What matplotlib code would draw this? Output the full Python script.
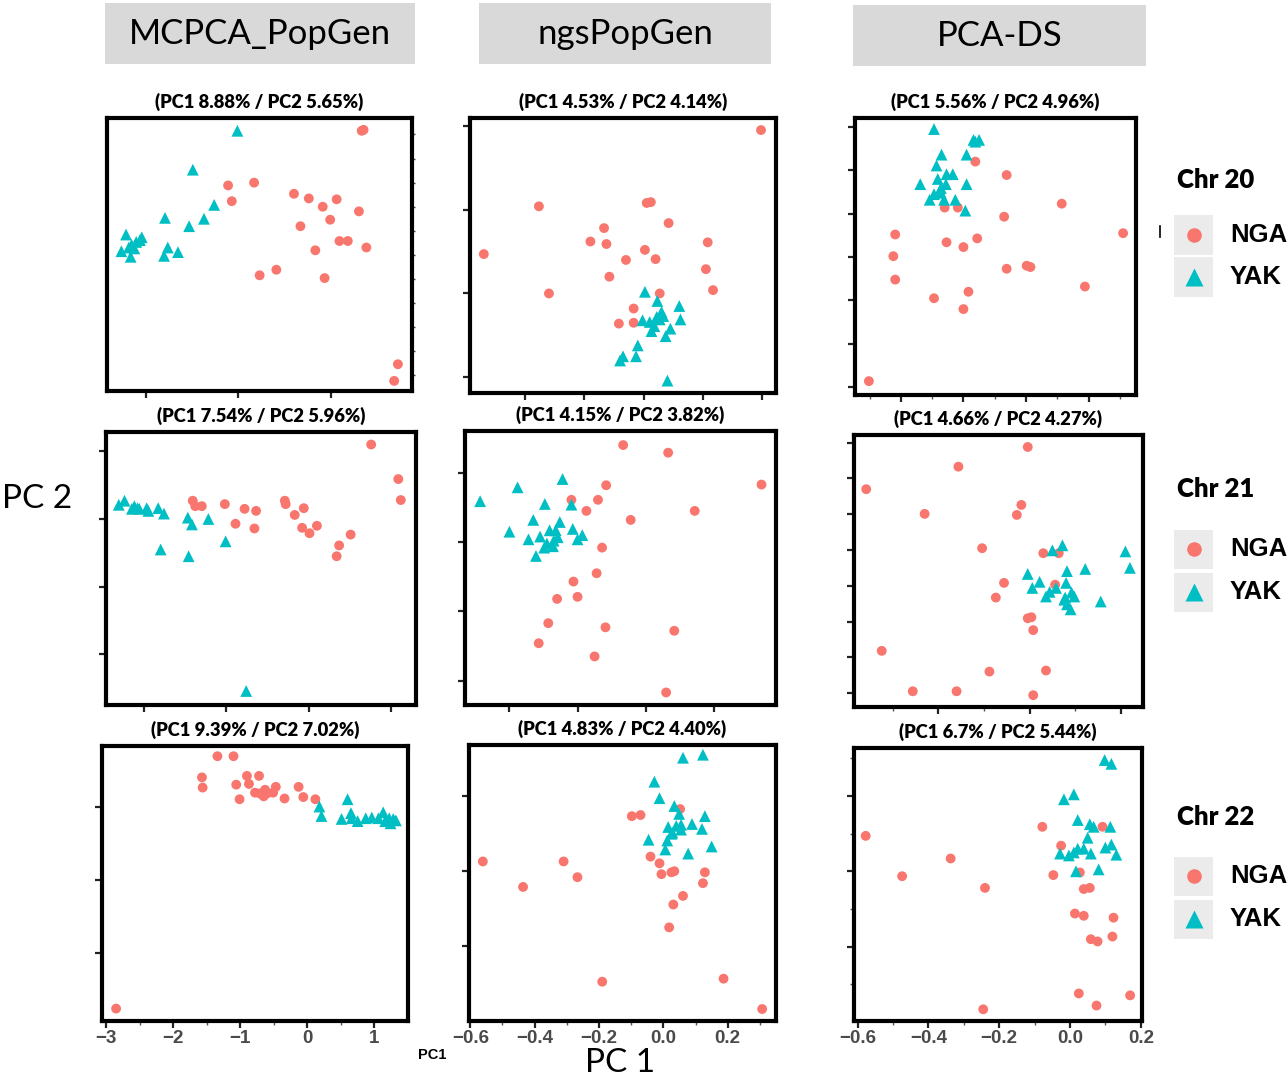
import matplotlib
matplotlib.use("Agg")
import matplotlib.pyplot as plt
from matplotlib.patches import Rectangle
from matplotlib.lines import Line2D

# ---------------- data ----------------
methods = ["MCPCA_PopGen", "ngsPopGen", "PCA-DS"]
chromosomes = ["Chr 20", "Chr 21", "Chr 22"]
groups = ["NGA", "YAK"]
group_colors = ["#F8766D", "#00BFC4"]
group_markers = ["o", "^"]

subtitles = [
    ["(PC1 8.88% / PC2 5.65%)", "(PC1 4.53% / PC2 4.14%)", "(PC1 5.56% / PC2 4.96%)"],
    ["(PC1 7.54% / PC2 5.96%)", "(PC1 4.15% / PC2 3.82%)", "(PC1 4.66% / PC2 4.27%)"],
    ["(PC1 9.39% / PC2 7.02%)", "(PC1 4.83% / PC2 4.40%)", "(PC1 6.7% / PC2 5.44%)"],
]

# Chr 20 - MCPCA_PopGen
c20_mc_nga_x = [1.33, 1.35, -0.11, 0.17, -0.07, 0.60, 0.76, 0.91, 1.06, 1.30, 0.99, 0.67, 1.09, 1.18, 1.38, 0.83, 0.41, 0.23, 0.93, 1.72, 1.68]
c20_mc_nga_y = [1.33, 1.34, 0.74, 0.77, 0.57, 0.65, 0.60, 0.51, 0.59, 0.46, 0.37, 0.30, 0.14, 0.14, 0.07, 0.04, -0.17, -0.23, -0.26, -1.19, -1.37]
c20_mc_yak_x = [-0.01, -0.49, -0.26, -0.79, -0.37, -0.53, -1.21, -1.04, -1.10, -1.15, -1.26, -1.16, -0.76, -0.65, -0.80, -1.18, -1.06, -1.12]
c20_mc_yak_y = [1.33, 0.91, 0.53, 0.39, 0.38, 0.30, 0.21, 0.18, 0.13, 0.10, 0.03, -0.03, 0.07, 0.02, -0.02, 0.07, 0.15, 0.06]

# Chr 20 - ngsPopGen
c20_ngs_nga_x = [1.98, -1.77, 0.05, 0.12, 0.42, -0.67, -0.90, -0.63, 1.08, -2.70, 0.02, -0.30, 0.20, 1.05, -0.58, -1.60, 0.27, 1.17, -0.17, -0.42, -0.17]
c20_ngs_nga_y = [1.95, 1.04, 1.08, 1.09, 0.84, 0.78, 0.62, 0.59, 0.61, 0.47, 0.52, 0.40, 0.41, 0.29, 0.20, 0.00, 0.00, 0.04, -0.18, -0.36, -0.35]
c20_ngs_yak_x = [0.02, 0.23, 0.60, 0.30, -0.02, 0.22, 0.33, 0.62, 0.10, 0.18, 0.13, 0.45, 0.37, -0.10, -0.35, -0.13, -0.40, 0.40, 0.27]
c20_ngs_yak_y = [0.02, -0.09, -0.15, -0.22, -0.32, -0.28, -0.27, -0.31, -0.34, -0.39, -0.45, -0.42, -0.51, -0.62, -0.75, -0.75, -0.80, -1.04, -0.31]

# Chr 20 - PCA-DS
c20_ds_nga_x = [0.19, 0.69, 1.57, -0.30, -0.09, 0.65, -1.09, 2.55, 0.22, -0.27, 0.00, -1.12, 0.69, 1.01, 1.07, -1.09, 1.94, 0.08, -0.47, 0.00, -1.51]
c20_ds_nga_y = [2.20, 1.89, 1.23, 1.14, 1.14, 0.93, 0.52, 0.55, 0.43, 0.34, 0.23, 0.02, -0.27, -0.20, -0.23, -0.52, -0.68, -0.80, -0.95, -1.20, -2.86]
c20_ds_yak_x = [-0.47, 0.16, 0.25, 0.19, -0.35, 0.05, -0.43, -0.17, -0.27, -0.41, 0.05, -0.69, -0.28, -0.36, -0.47, -0.36, -0.54, -0.31, -0.13, 0.03]
c20_ds_yak_y = [2.95, 2.70, 2.70, 2.66, 2.36, 2.36, 2.11, 1.91, 1.91, 1.80, 1.68, 1.68, 1.68, 1.59, 1.45, 1.48, 1.32, 1.32, 1.32, 1.07]

# Chr 21 - MCPCA_PopGen
c21_mc_nga_x = [1.76, 2.09, 2.12, -0.41, -0.38, -0.30, -0.02, 0.22, 0.36, 0.71, 0.72, 0.94, 0.83, 0.11, 0.34, 0.92, 1.10, 1.01, 1.51, 1.37, 1.34]
c21_mc_nga_y = [2.10, 1.59, 1.28, 1.27, 1.19, 1.19, 1.22, 1.15, 1.12, 1.27, 1.22, 1.16, 1.06, 0.93, 0.86, 0.87, 0.90, 0.79, 0.77, 0.61, 0.45]
c21_mc_yak_x = [-1.24, -1.31, -1.15, -1.08, -0.97, -0.95, -0.83, -0.76, -1.06, -0.47, -0.42, -0.22, -0.01, -0.80, -0.46, 0.24, -1.12]
c21_mc_yak_y = [1.27, 1.21, 1.15, 1.16, 1.16, 1.12, 1.16, 1.08, 1.15, 1.02, 0.92, 1.00, 0.67, 0.55, 0.45, -1.54, 1.19]

# Chr 21 - ngsPopGen
c21_ngs_nga_x = [0.67, 1.33, 2.70, 0.42, -0.09, 0.30, 0.13, 1.72, 0.78, 0.36, 0.28, -0.06, -0.30, 0.00, -0.43, 0.41, 1.42, -0.57, 0.25, 1.30]
c21_ngs_nga_y = [2.40, 2.29, 1.83, 1.82, 1.61, 1.61, 1.45, 1.45, 1.32, 0.92, 0.55, 0.43, 0.18, 0.21, -0.17, -0.23, -0.28, -0.46, -0.65, -1.17]
c21_ngs_yak_x = [-0.22, -0.88, -1.43, -0.48, -0.09, -0.65, -0.26, -1.00, -0.07, -0.41, -0.32, -0.72, -0.55, -0.29, 0.00, 0.07, -0.45, -0.49, -0.36, -0.61, -0.35]
c21_ngs_yak_y = [1.91, 1.79, 1.59, 1.55, 1.54, 1.32, 1.29, 1.15, 1.19, 1.17, 1.17, 1.04, 1.08, 1.07, 1.04, 1.10, 0.98, 0.92, 0.94, 0.80, 1.02]

# Chr 21 - PCA-DS
c21_ds_nga_x = [-0.02, -0.78, -1.79, -0.09, -1.15, -0.14, -0.52, 0.15, 0.32, -0.28, 0.28, -0.37, -0.02, 0.02, 0.04, -1.62, -0.44, 0.18, -1.28, -0.80, 0.04]
c21_ds_nga_y = [3.88, 3.33, 2.70, 2.26, 2.01, 1.98, 1.05, 0.91, 0.91, 0.08, 0.03, -0.33, -0.91, -0.88, -1.24, -1.82, -2.40, -2.37, -2.95, -2.95, -3.06]
c21_ds_yak_x = [0.25, 0.36, 1.05, 1.10, 0.41, 0.61, -0.02, 0.11, 0.40, 0.03, 0.29, 0.22, 0.46, 0.18, 0.49, 0.38, 0.78, 0.41, 0.45, 0.39]
c21_ds_yak_y = [0.99, 1.13, 0.96, 0.50, 0.41, 0.47, 0.33, 0.11, 0.08, -0.06, -0.06, -0.17, -0.19, -0.30, -0.30, -0.39, -0.44, -0.52, -0.66, -0.33]

# Chr 22 - MCPCA_PopGen
c22_mc_nga_x = [-1.34, -1.10, -1.57, -1.56, -0.90, -0.72, -0.87, -1.06, -0.47, -0.13, -0.78, -0.63, -0.60, -0.51, -0.65, -1.01, -0.34, -0.06, 0.12, -0.71, -2.85]
c22_mc_nga_y = [1.70, 1.70, 1.41, 1.27, 1.43, 1.43, 1.32, 1.31, 1.28, 1.28, 1.20, 1.24, 1.19, 1.20, 1.15, 1.11, 1.12, 1.14, 1.11, 1.19, -1.76]
c22_mc_yak_x = [0.18, 0.21, 0.60, 0.65, 0.51, 0.75, 0.96, 1.13, 1.22, 1.28, 1.06, 1.32, 0.87, 1.24, 1.16, 0.66]
c22_mc_yak_y = [1.01, 0.88, 1.11, 0.92, 0.84, 0.81, 0.86, 0.93, 0.85, 0.84, 0.85, 0.82, 0.85, 0.78, 0.81, 0.85]

# Chr 22 - ngsPopGen
c22_ngs_nga_x = [0.052, -0.098, -0.071, -0.561, -0.310, -0.040, -0.012, -0.267, -0.006, 0.025, 0.034, 0.129, -0.436, 0.123, 0.061, 0.031, 0.018, -0.190, 0.187, 0.307]
c22_ngs_nga_y = [0.166, 0.147, 0.150, 0.026, 0.026, 0.039, 0.021, -0.016, -0.008, -0.003, 0.000, -0.003, -0.042, -0.032, -0.066, -0.089, -0.150, -0.295, -0.287, -0.368]
c22_ngs_yak_x = [0.061, 0.123, -0.028, -0.012, 0.034, 0.049, 0.129, 0.015, 0.040, 0.055, 0.089, 0.120, 0.028, 0.055, -0.046, 0.012, 0.006, 0.150, 0.077, 0.025]
c22_ngs_yak_y = [0.303, 0.311, 0.239, 0.195, 0.174, 0.153, 0.147, 0.118, 0.121, 0.124, 0.126, 0.113, 0.103, 0.111, 0.084, 0.082, 0.058, 0.066, 0.047, 0.100]

# Chr 22 - PCA-DS
c22_ds_nga_x = [-0.577, -0.078, 0.092, -0.337, -0.025, -0.474, -0.047, 0.028, -0.240, 0.039, 0.056, 0.014, 0.039, 0.123, 0.059, 0.078, 0.120, 0.025, 0.170, 0.075, -0.245]
c22_ds_nga_y = [0.094, 0.118, 0.118, 0.034, 0.068, -0.013, -0.010, -0.003, -0.044, -0.047, -0.044, -0.112, -0.118, -0.123, -0.180, -0.186, -0.173, -0.324, -0.329, -0.356, -0.366]
c22_ds_yak_x = [0.098, 0.117, -0.017, 0.011, 0.022, 0.056, 0.067, 0.114, 0.050, 0.022, 0.039, 0.100, 0.117, -0.028, -0.003, 0.011, 0.059, 0.131, 0.017, 0.081]
c22_ds_yak_y = [0.295, 0.285, 0.191, 0.204, 0.136, 0.125, 0.118, 0.118, 0.089, 0.060, 0.060, 0.063, 0.071, 0.047, 0.042, 0.050, 0.047, 0.044, 0.000, 0.005]

# x tick labels of the bottom row
mc_xtick_labels = ["\u22123", "\u22122", "\u22121", "0", "1"]
ngs_xtick_labels = ["\u22120.6", "\u22120.4", "\u22120.2", "0.0", "0.2"]
ds_xtick_labels = ["\u22120.6", "\u22120.4", "\u22120.2", "0.0", "0.2"]

panels = [
    [((c20_mc_nga_x, c20_mc_nga_y), (c20_mc_yak_x, c20_mc_yak_y)),
     ((c20_ngs_nga_x, c20_ngs_nga_y), (c20_ngs_yak_x, c20_ngs_yak_y)),
     ((c20_ds_nga_x, c20_ds_nga_y), (c20_ds_yak_x, c20_ds_yak_y))],
    [((c21_mc_nga_x, c21_mc_nga_y), (c21_mc_yak_x, c21_mc_yak_y)),
     ((c21_ngs_nga_x, c21_ngs_nga_y), (c21_ngs_yak_x, c21_ngs_yak_y)),
     ((c21_ds_nga_x, c21_ds_nga_y), (c21_ds_yak_x, c21_ds_yak_y))],
    [((c22_mc_nga_x, c22_mc_nga_y), (c22_mc_yak_x, c22_mc_yak_y)),
     ((c22_ngs_nga_x, c22_ngs_nga_y), (c22_ngs_yak_x, c22_ngs_yak_y)),
     ((c22_ds_nga_x, c22_ds_nga_y), (c22_ds_yak_x, c22_ds_yak_y))],
]

# ---------------- layout / styling ----------------
W, H = 1288, 1076
fig = plt.figure(figsize=(W / 100, H / 100), dpi=100)
fig.patch.set_facecolor("white")

CAL = ["Lato", "DejaVu Sans"]
ARIAL = ["Liberation Sans", "DejaVu Sans"]

def frac_rect(l, r, t, b):
    return [l / W, 1 - b / H, (r - l) / W, (b - t) / H]

# pixel boxes of panels (left, right, top, bottom)
boxes = [
    [(107, 412, 118, 391), (470, 776, 118, 393), (855, 1136, 118, 395)],
    [(106, 416, 432, 705), (465, 776, 431, 705), (854, 1143, 435, 707)],
    [(102, 408, 746, 1021), (469, 776, 745, 1021), (854, 1142, 748, 1021)],
]
xlims = [
    [(-1.415, 1.872), (-2.933, 2.233), (-1.732, 2.756)],
    [(-1.465, 2.305), (-1.652, 2.913), (-1.924, 1.243)],
    [(-3.06, 1.50), (-0.604, 0.350), (-0.610, 0.2035)],
]
ylims = [
    [(-1.479, 1.468), (-1.188, 2.094), (-3.18, 3.205)],
    [(-1.747, 2.285), (-1.351, 2.603), (-3.39, 4.215)],
    [(-1.93, 1.84), (-0.40, 0.337), (-0.397, 0.327)],
]
xticks_major = [
    [[-1, 0, 1], [-2, -1, 0, 1, 2], [-1, 0, 1, 2]],
    [[-1, 0, 1, 2], [-1, 0, 1, 2], [-1, 0, 1]],
    [[-3, -2, -1, 0, 1], [-0.6, -0.4, -0.2, 0.0, 0.2], [-0.6, -0.4, -0.2, 0.0, 0.2]],
]
xticks_minor = [
    [[], [], [-1.5, -0.5, 0.5, 1.5, 2.5]],
    [[], [], [-1.5, -0.5, 0.5]],
    [[-2.5, -1.5, -0.5, 0.5], [-0.5, -0.3, -0.1, 0.1, 0.3], [-0.5, -0.3, -0.1, 0.1]],
]
yticks_major = [
    [[], [-1, 0, 1, 2], [-3, -2, -1, 0, 1, 2, 3]],
    [[-1, 0, 1, 2], [-1, 0, 1, 2], [-3, -2, -1, 0, 1, 2, 3, 4]],
    [[-1, 0, 1], [-0.2, 0.0, 0.2], [-0.2, 0.0, 0.2]],
]
yticks_minor = [
    [[], [], []],
    [[], [], []],
    [[], [], [-0.3, -0.1, 0.1, 0.3]],
]
bottom_labels = [mc_xtick_labels, ngs_xtick_labels, ds_xtick_labels]

for r in range(3):
    for c in range(3):
        ax = fig.add_axes(frac_rect(*boxes[r][c]))
        for g in range(2):
            xs, ys = panels[r][c][g]
            if group_markers[g] == "o":
                ax.scatter(xs, ys, s=50, marker="o", color=group_colors[g],
                           edgecolors="none", zorder=3 + g)
            else:
                ax.scatter(xs, ys, s=72, marker="^", color=group_colors[g],
                           edgecolors="none", zorder=3 + g)
        ax.set_xlim(*xlims[r][c])
        ax.set_ylim(*ylims[r][c])
        for sp in ax.spines.values():
            sp.set_linewidth(3.0)
            sp.set_color("black")
        ax.set_xticks(xticks_major[r][c])
        ax.set_xticks(xticks_minor[r][c], minor=True)
        ax.set_yticks(yticks_major[r][c])
        ax.set_yticks(yticks_minor[r][c], minor=True)
        ax.tick_params(which="major", direction="out", length=5, width=1.6,
                       color="#222222")
        ax.tick_params(which="minor", direction="out", length=3, width=1.0,
                       color="#555555")
        ax.set_yticklabels([])
        if r == 2:
            ax.set_xticklabels(bottom_labels[c])
            for lab in ax.get_xticklabels():
                lab.set_fontfamily(ARIAL)
                lab.set_fontweight("bold")
                lab.set_fontsize(13.5)
                lab.set_color("#4A4A4A")
            ax.tick_params(axis="x", which="major", pad=1.5)
        else:
            ax.set_xticklabels([])
        if r == 0 and c == 0:
            ax.yaxis.set_ticks_position("right")
            ax.set_yticks([-1.31 + 0.26 * k for k in range(11)], minor=True)
            ax.tick_params(axis="y", which="minor", length=2.5, width=1.0,
                           color="#444444")
        # subtitle
        ax.set_title(subtitles[r][c], fontfamily=CAL, fontweight="heavy",
                     fontsize=13.2, pad=7)

# method headers
header_boxes = [(105, 415, 3, 64), (479, 771, 3, 64), (853, 1146, 5, 66)]
for name, (l, rr, t, b) in zip(methods, header_boxes):
    fig.patches.append(Rectangle((l / W, 1 - b / H), (rr - l) / W, (b - t) / H,
                                 transform=fig.transFigure, facecolor="#D9D9D9",
                                 edgecolor="none", zorder=0))
    fig.text((l + rr) / 2 / W, 1 - (t + b) / 2 / H, name, ha="center",
             va="center", fontfamily=CAL, fontsize=25, color="black")

# axis titles
fig.text(2 / W, 1 - 499 / H, "PC 2", ha="left", va="center",
         fontfamily=CAL, fontsize=24)
fig.text(620 / W, 1 - 1063 / H, "PC 1", ha="center", va="center",
         fontfamily=CAL, fontsize=24)
fig.text(432 / W, 1 - 1055 / H, "PC1", ha="center", va="center",
         fontfamily=ARIAL, fontweight="bold", fontsize=10.5)

# legends (one per chromosome row)
legend_title_y = [180, 489, 817]
legend_key_y = [(235, 277), (549, 592), (876, 919)]
for r in range(3):
    fig.text(1177 / W, 1 - legend_title_y[r] / H, chromosomes[r], ha="left",
             va="center", fontfamily=CAL, fontweight="heavy", fontsize=18.5)
    for g in range(2):
        cy = legend_key_y[r][g]
        fig.patches.append(Rectangle((1174 / W, 1 - (cy + 19.5) / H), 39 / W, 39 / H,
                                     transform=fig.transFigure,
                                     facecolor="#EBEBEB", edgecolor="none"))
        ms = 10.5 if group_markers[g] == "o" else 13
        fig.lines.append(Line2D([1193.5 / W], [1 - cy / H], transform=fig.transFigure,
                                marker=group_markers[g], markersize=ms,
                                color=group_colors[g], markeredgecolor="none",
                                linestyle="none"))
        fig.text(1230 / W, 1 - cy / H, groups[g], ha="left", va="center",
                 fontfamily=ARIAL, fontweight="bold", fontsize=18.5)

# small stray mark left of the first legend
fig.lines.append(Line2D([1160 / W, 1160 / W], [1 - 226 / H, 1 - 237 / H],
                        transform=fig.transFigure, color="black", linewidth=1.2))

fig.savefig("out.png", dpi=100, facecolor="white")
